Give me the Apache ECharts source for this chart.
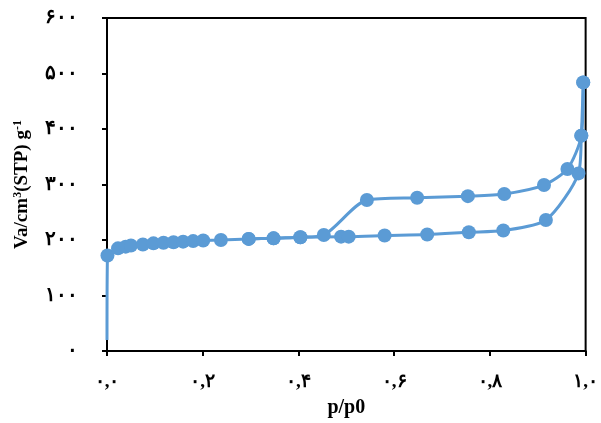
<!DOCTYPE html>
<html>
<head>
<meta charset="utf-8">
<script src="https://cdn.jsdelivr.net/npm/echarts@6/dist/echarts.min.js"></script>
<style>
html,body{margin:0;padding:0;background:#fff;}
#chart{width:601px;height:423px;}
</style>
</head>
<body>
<div id="chart"></div>
<script>
// Adsorption branch (lower): relative pressure, volume
const adsX = [0.0, 0.001, 0.023, 0.039, 0.050, 0.075, 0.097, 0.118, 0.139, 0.159, 0.180, 0.201, 0.238, 0.296, 0.348, 0.404, 0.489, 0.505, 0.580, 0.669, 0.756, 0.828, 0.917, 0.985, 0.991, 0.995];
const adsY = [20, 172, 185, 188, 190, 192, 194, 195, 196, 197, 198, 199, 200, 202, 203, 205, 206, 206, 208, 210, 214, 217, 236, 320, 388, 484];
// Desorption branch (upper)
const desX = [0.995, 0.991, 0.962, 0.913, 0.830, 0.754, 0.648, 0.543, 0.453, 0.404, 0.348, 0.296];
const desY = [484, 388, 328, 299, 283, 279, 276, 272, 209, 205, 203, 202];
// Tick labels (Persian digits)
const xTickLabels = {"0":"۰,۰","0.2":"۰,۲","0.4":"۰,۴","0.6":"۰,۶","0.8":"۰,۸","1":"۱,۰"};
const yTickLabels = {"0":"۰","100":"۱۰۰","200":"۲۰۰","300":"۳۰۰","400":"۴۰۰","500":"۵۰۰","600":"۶۰۰"};

const color = '#5B9BD5';
const fontFam = '"Liberation Serif","Times New Roman","DejaVu Serif",serif';

function pairs(xs, ys, noSymbolFirst) {
  return xs.map((x, i) => {
    if (noSymbolFirst && i === 0) return {value: [x, ys[i]], symbol: 'none'};
    return [x, ys[i]];
  });
}

const chart = echarts.init(document.getElementById('chart'), null, {renderer: 'canvas'});
chart.setOption({
  animation: false,
  backgroundColor: '#fff',
  grid: {left: 107, right: 11, top: 18, bottom: 70, show: true, borderColor: '#000', borderWidth: 2, backgroundColor: 'transparent'},
  xAxis: {
    type: 'value', min: 0, max: 1, interval: 0.2,
    name: 'p/p0', nameLocation: 'middle', nameGap: 47,
    nameTextStyle: {fontFamily: fontFam, fontWeight: 'bold', fontSize: 20, color: '#000'},
    axisLine: {show: true, lineStyle: {color: '#000', width: 2}},
    axisTick: {show: true, length: 5, lineStyle: {color: '#000', width: 2}},
    axisLabel: {margin: 22, fontFamily: fontFam, fontWeight: 'bold', fontSize: 19, color: '#000',
      formatter: v => xTickLabels[String(+v.toFixed(1))] || ''},
    splitLine: {show: false}
  },
  yAxis: {
    type: 'value', min: 0, max: 600, interval: 100,
    name: '{b|Va/cm}{s|3}{b|(STP) g}{s|-1}', nameLocation: 'middle', nameGap: 74, nameRotate: 90,
    nameTextStyle: {
      rich: {
        b: {fontFamily: fontFam, fontWeight: 'bold', fontSize: 19, color: '#000'},
        s: {fontFamily: fontFam, fontWeight: 'bold', fontSize: 12, color: '#000', verticalAlign: 'top', padding: [0,0,9,0]}
      }
    },
    axisLine: {show: true, lineStyle: {color: '#000', width: 2}},
    axisTick: {show: true, length: 5, lineStyle: {color: '#000', width: 2}},
    axisLabel: {margin: 29, fontFamily: fontFam, fontWeight: 'bold', fontSize: 20, color: '#000',
      formatter: v => yTickLabels[String(v)] || ''},
    splitLine: {show: false}
  },
  series: [
    {
      type: 'line', name: 'adsorption', data: pairs(adsX, adsY, true),
      smooth: 0.25, symbol: 'circle', symbolSize: 14, showAllSymbol: true,
      lineStyle: {color: color, width: 3}, itemStyle: {color: color}
    },
    {
      type: 'line', name: 'desorption', data: pairs(desX, desY, false),
      smooth: 0.25, symbol: 'circle', symbolSize: 14, showAllSymbol: true,
      lineStyle: {color: color, width: 3}, itemStyle: {color: color}
    }
  ]
});
</script>
</body>
</html>
